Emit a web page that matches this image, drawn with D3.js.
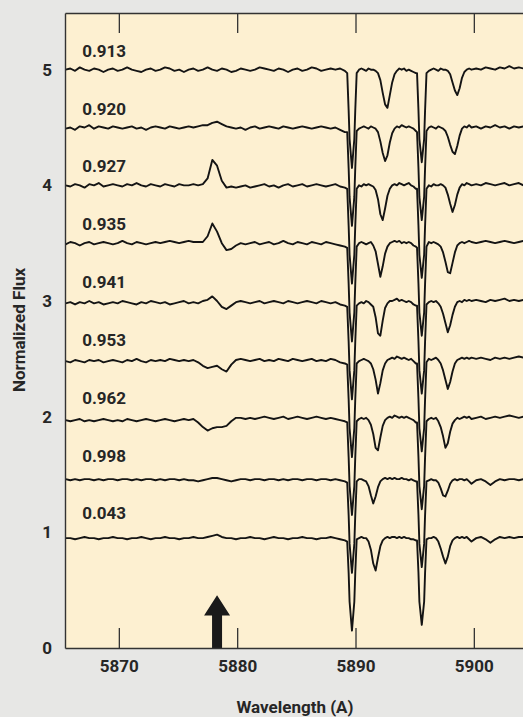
<!DOCTYPE html>
<html><head><meta charset="utf-8">
<script src="https://cdn.jsdelivr.net/npm/d3@7"></script>
<style>
html,body{margin:0;padding:0;background:#e7e7e5;}
svg{display:block;}
text{font-family:Roboto,"DejaVu Sans",sans-serif;font-weight:700;fill:#262626;}
</style></head><body>
<svg id="chart" width="523" height="717"></svg>
<script>
// Wavelength sampling grid (Angstrom)
const wavelengths = [
 5865.5,5865.9,5866.3,5866.7,5867.1,5867.5,5867.9,5868.3,5868.7,5869.1,
 5869.5,5869.9,5870.3,5870.7,5871.1,5871.5,5871.9,5872.3,5872.7,5873.1,
 5873.5,5873.9,5874.3,5874.7,5875.1,5875.5,5875.9,5876.3,5876.7,5877.1,
 5877.5,5877.9,5878.3,5878.7,5879.1,5879.5,5879.9,5880.3,5880.7,5881.1,
 5881.5,5881.9,5882.3,5882.7,5883.1,5883.5,5883.9,5884.3,5884.7,5885.1,
 5885.5,5885.9,5886.3,5886.7,5887.1,5887.5,5887.9,5888.3,5888.7,5889.1,
 5889.3,5889.42,5889.5,5889.7,5889.9,5889.98,5890.1,
 5890.3,5890.5,5890.7,5890.9,5891.1,5891.3,5891.5,5891.7,5891.9,5892.1,5892.3,5892.5,5892.7,5892.9,
 5893.1,5893.3,5893.5,5893.7,5893.9,5894.1,5894.3,5894.5,5894.7,5894.9,5895.1,
 5895.2,5895.32,5895.4,5895.6,5895.8,5895.88,5896.0,
 5896.2,5896.4,5896.6,5896.8,5897.0,5897.2,5897.4,5897.6,5897.8,5898.0,
 5898.2,5898.4,5898.6,5898.8,5899.0,5899.2,5899.4,5899.6,5899.8,
 5900.2,5900.6,5901.0,5901.4,5901.8,5902.2,5902.6,5903.0,5903.4,5903.8,5904.2,5904.6,5905.0
];

// Orbital phase of each spectrum (top to bottom) and vertical offset
const phases  = ["0.913","0.920","0.927","0.935","0.941","0.953","0.962","0.998","0.043"];
const offsets = [4, 3.5, 3, 2.5, 2, 1.5, 1, 0.5, 0];

// Normalized flux in percent of continuum, one value per wavelength
const flux913 = [
 100,101,99,102,100,99,101,100,98,100, 101,99,100,102,100,99,98,100,101,99,
 100,102,101,99,100,98,100,101,99,100, 102,100,99,101,100,98,99,101,100,99,
 100,102,101,100,99,101,100,98,100,101, 99,100,102,101,99,100,101,100,101,99,
 97,65,40,15,40,65,97,
 100,101,100,99,101,100,100,99,97,91,80,70,67,78,89,96,99,101,100,101,99,100,99,98,97,
 97,65,40,20,40,65,97,
 99,100,101,100,99,101,100,100,99,96,89,82,78,84,93,98,100,101,100,
 101,100,102,101,100,102,101,103,101,102,101,102,101];
const flux920 = [
 99,100,98,101,100,102,99,101,100,99, 101,100,99,100,101,99,100,98,100,101,
 100,99,101,100,99,100,101,100,101,102, 102,104,105,103,101,100,99,100,98,100,
 101,99,100,101,100,99,101,100,99,100, 101,100,99,100,101,100,99,100,98,96,
 96,65,40,15,40,65,97,
 99,100,101,100,99,101,100,99,96,88,78,71,76,87,95,99,101,100,102,101,100,101,100,99,97,
 96,65,40,20,40,65,97,
 100,101,100,99,101,100,99,97,92,85,79,77,84,93,99,101,100,102,100,
 101,99,101,100,102,100,101,99,101,100,101,100,101];
const flux927 = [
 100,99,101,100,98,101,100,102,99,100, 101,100,99,101,100,102,100,99,101,100,
 99,101,100,99,101,100,100,101,100,101, 106,122,117,104,98,99,98,99,100,98,
 99,100,101,99,100,98,100,101,99,100, 101,99,100,101,100,99,100,101,99,98,
 97,65,40,15,40,65,97,
 100,99,101,100,101,100,99,96,88,75,70,80,91,97,100,101,100,102,101,100,101,102,100,99,97,
 97,65,40,20,40,65,97,
 100,99,101,100,100,101,100,98,92,84,77,83,92,98,101,100,102,101,100,
 101,100,102,101,100,101,102,100,101,102,100,101,100];
const flux935 = [
 99,101,100,98,100,101,99,100,101,100, 99,100,102,100,99,101,100,99,100,101,
 100,101,102,101,100,101,102,101,101,101, 106,117,110,100,94,95,98,100,99,100,
 101,99,100,101,99,100,102,100,99,101, 100,99,101,100,99,101,100,99,98,97,
 96,65,40,15,40,65,97,
 100,101,100,99,100,101,98,93,82,71,80,91,97,100,101,102,101,102,100,101,100,101,100,98,97,
 96,65,40,20,40,65,97,
 101,100,101,100,99,97,92,84,75,74,83,92,98,100,101,100,101,102,101,
 100,101,102,101,100,101,102,101,100,101,102,101,100];
const flux941 = [
 98,99,97,99,98,100,98,99,97,98, 99,98,100,99,98,97,99,98,100,99,
 98,99,97,98,99,100,98,99,98,100, 101,104,100,95,93,96,99,100,99,98,
 99,100,98,99,100,99,98,100,99,98, 99,100,99,98,100,99,98,99,97,96,
 95,65,40,15,40,65,96,
 98,99,98,100,99,97,95,86,72,70,83,94,98,100,100,101,102,100,101,100,99,100,99,97,96,
 96,65,40,20,40,65,97,
 99,100,99,100,98,95,89,81,73,79,88,95,99,100,99,101,100,101,100,
 101,100,99,101,100,101,102,100,101,100,101,100,101];
const flux953 = [
 98,97,99,98,97,99,98,99,97,98, 99,98,97,99,98,100,98,97,99,98,
 99,98,100,99,98,99,98,99,97,94, 92,93,94,91,89,95,99,100,99,98,
 99,100,98,99,98,100,99,98,100,99, 98,99,100,98,99,98,100,99,97,96,
 95,65,40,15,40,65,96,
 98,99,100,99,98,96,91,82,70,79,90,96,99,100,101,100,102,101,100,101,100,99,100,98,96,
 96,65,40,20,40,65,97,
 100,99,100,101,99,96,90,82,74,80,89,96,99,100,101,100,101,100,101,
 100,101,100,99,101,100,101,100,101,102,101,100,101];
const flux962 = [
 97,96,97,98,96,97,96,97,98,97, 96,97,96,98,97,96,97,98,97,96,
 97,98,97,96,97,98,97,98,95,91, 88,90,91,91,92,96,99,99,98,99,
 98,99,100,99,98,99,100,98,99,100, 99,98,99,100,99,98,99,98,97,96,
 95,65,40,15,40,65,96,
 98,99,98,99,97,93,85,73,71,82,92,97,99,100,99,101,100,99,100,99,100,99,98,97,95,
 95,65,40,20,40,65,96,
 98,99,98,99,96,91,83,73,77,87,94,97,99,98,99,100,99,100,98,
 99,100,98,99,100,99,100,101,100,99,100,101,100];
const flux998 = [
 96,95,96,95,96,96,95,96,95,96, 96,95,96,96,95,96,95,96,96,95,
 96,95,96,96,95,96,95,95,94,95, 96,97,97,96,95,94,95,96,96,95,
 96,96,95,96,96,95,96,95,96,96, 95,96,96,95,96,96,95,96,95,94,
 93,65,40,15,40,65,94,
 96,96,95,94,90,82,75,81,89,94,96,97,96,97,96,97,96,96,97,96,96,95,96,95,94,
 94,65,40,20,40,65,94,
 95,96,95,95,93,88,82,81,86,92,95,96,95,96,96,95,96,94,92,
 95,96,94,91,94,96,95,96,96,95,96,96,95];
const flux043 = [
 95,95,94,95,96,95,95,94,95,95, 96,95,95,94,95,95,96,95,94,95,
 95,96,95,95,94,95,95,96,95,95, 96,97,98,96,95,95,94,95,95,96,
 95,95,94,95,96,95,95,94,95,95, 96,95,95,94,95,95,96,95,94,93,
 92,65,40,15,40,65,94,
 95,96,95,95,92,85,73,67,78,88,93,95,96,95,96,96,95,96,95,96,95,95,94,94,93,
 93,65,40,20,40,65,94,
 95,95,96,95,92,86,79,73,79,88,93,95,96,95,96,95,96,94,92,
 95,96,94,91,94,96,95,96,95,96,96,95,96];
const fluxes = [flux913, flux920, flux927, flux935, flux941, flux953, flux962, flux998, flux043];

const xTicks = [5870, 5880, 5890, 5900];
const yTicks = [0, 1, 2, 3, 4, 5];
const arrowWavelength = 5878.3;   // marked feature
const labelWavelength = 5866.9;   // left edge of phase labels

// ---------- layout ----------
const svg = d3.select("#chart");
const plotL = 65, plotT = 13, plotB = 648, plotR = 533;
const x = d3.scaleLinear().domain([5865.45, 5905]).range([plotL, plotR]);
const y = d3.scaleLinear().domain([0, 5.49]).range([plotB, plotT]);

svg.append("rect").attr("x",0).attr("y",0).attr("width",523).attr("height",717).attr("fill","#e7e7e5");
svg.append("rect").attr("x",plotL).attr("y",plotT).attr("width",plotR-plotL).attr("height",plotB-plotT).attr("fill","#fdf0d1");

svg.append("clipPath").attr("id","clip").append("rect")
  .attr("x",plotL).attr("y",plotT).attr("width",plotR-plotL).attr("height",plotB-plotT);

const line = d3.line().x(d=>x(d[0])).y(d=>y(d[1]));
const gSpec = svg.append("g").attr("clip-path","url(#clip)");
fluxes.forEach((f,i)=>{
  const pts = wavelengths.map((w,j)=>[w, offsets[i] + f[j]/100]);
  gSpec.append("path").datum(pts).attr("d",line)
    .attr("fill","none").attr("stroke","#141414").attr("stroke-width",1.9)
    .attr("stroke-linejoin","round");
});

// phase labels
svg.append("g").selectAll("text").data(phases).join("text")
  .attr("x", x(labelWavelength))
  .attr("y", (d,i)=>y(offsets[i]+1) - 13)
  .attr("font-size", 17)
  .text(d=>d);

// arrow
const ax = x(arrowWavelength);
const arrowPts = [
  [ax-5, y(0)], [ax-5, y(0.28)], [ax-13, y(0.28)], [ax, y(0.455)],
  [ax+13, y(0.28)], [ax+5, y(0.28)], [ax+5, y(0)]
];
svg.append("path").attr("d", d3.line()(arrowPts)+"Z").attr("fill","#1a1a1a");

// axes
function styleAxis(g){
  g.attr("font-size",null).attr("font-family",null);
  g.selectAll("path.domain").attr("stroke","#333").attr("stroke-width",1.4);
  g.selectAll(".tick line").attr("stroke","#333").attr("stroke-width",1.3);
  g.selectAll(".tick text").attr("fill","#262626").style("font-size","17px");
}
svg.append("g").attr("transform",`translate(0,${plotB})`)
  .call(d3.axisBottom(x).tickValues(xTicks).tickSizeInner(-20).tickSizeOuter(0).tickPadding(12).tickFormat(d3.format("d")))
  .call(styleAxis);
svg.append("g").attr("transform",`translate(0,${plotT})`)
  .call(d3.axisTop(x).tickValues(xTicks).tickSizeInner(-20).tickSizeOuter(0).tickFormat(""))
  .call(styleAxis);
svg.append("g").attr("transform",`translate(${plotL},0)`)
  .call(d3.axisLeft(y).tickValues(yTicks).tickSize(0).tickPadding(13).tickFormat(d3.format("d")))
  .call(styleAxis);

// titles
svg.append("text").attr("transform","translate(25,330) rotate(-90)")
  .attr("text-anchor","middle").attr("font-size",17).text("Normalized Flux");
svg.append("text").attr("x",295).attr("y",713)
  .attr("text-anchor","middle").attr("font-size",17).text("Wavelength (A)");
</script>
</body></html>
